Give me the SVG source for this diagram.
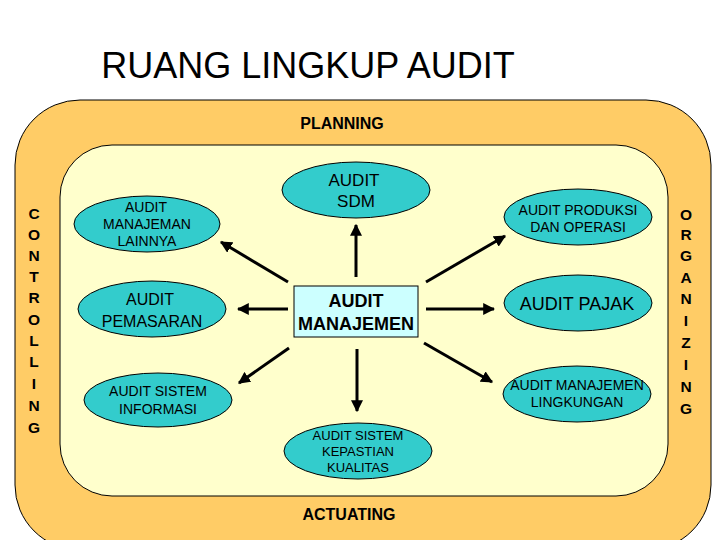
<svg xmlns="http://www.w3.org/2000/svg" width="720" height="540" viewBox="0 0 720 540">
<defs>
<marker id="ah" viewBox="0 0 10 10" refX="9" refY="5" markerWidth="4" markerHeight="4" orient="auto" markerUnits="strokeWidth"><path d="M0,0 L10,5 L0,10 Z" fill="#000"/></marker>
<style>
text{font-family:"Liberation Sans",Arial,sans-serif;fill:#000;text-anchor:middle}
.node ellipse{fill:#33CCCC;stroke:#000;stroke-width:1}
.b{font-weight:bold}
.conn line{stroke:#000;stroke-width:3;marker-end:url(#ah)}
.side{font-weight:bold;font-size:15.5px}
.s{font-size:14px}
</style>
</defs>
<rect width="720" height="540" fill="#fff"/>
<text x="308" y="78" style="font-size:36px">RUANG LINGKUP AUDIT</text>
<rect id="outer" x="15" y="100" width="696" height="450" rx="65" ry="65" fill="#FFCC66" stroke="#000" stroke-width="1"/>
<rect id="inner" x="60" y="145" width="608" height="351" rx="52" ry="52" fill="#FFFFCC" stroke="#000" stroke-width="1"/>
<text class="b" x="342" y="129" style="font-size:16px">PLANNING</text>
<text class="b" x="349" y="520" style="font-size:16px">ACTUATING</text>
<g class="side">
<text x="34" y="219">C</text><text x="34" y="240">O</text><text x="34" y="261">N</text><text x="34" y="282">T</text><text x="34" y="303">R</text><text x="34" y="325">O</text><text x="34" y="346">L</text><text x="34" y="367">L</text><text x="34" y="389">I</text><text x="34" y="411">N</text><text x="34" y="433">G</text>
</g>
<g class="side">
<text x="686" y="220">O</text><text x="686" y="240">R</text><text x="686" y="261">G</text><text x="686" y="283">A</text><text x="686" y="304">N</text><text x="686" y="326">I</text><text x="686" y="348">Z</text><text x="686" y="370">I</text><text x="686" y="392">N</text><text x="686" y="414">G</text>
</g>
<g class="conn">
<line x1="356" y1="277" x2="356" y2="225"/>
<line x1="288" y1="282" x2="221" y2="242"/>
<line x1="288" y1="309" x2="238" y2="309"/>
<line x1="289" y1="348" x2="239" y2="383"/>
<line x1="357" y1="349" x2="357" y2="411"/>
<line x1="424" y1="343" x2="492" y2="382"/>
<line x1="426" y1="309" x2="494" y2="309"/>
<line x1="426" y1="282" x2="505" y2="236"/>
</g>
<g id="sdm" class="node"><ellipse cx="356" cy="190" rx="74" ry="28"/><text x="354" y="186" style="font-size:17px">AUDIT</text><text x="356" y="207" style="font-size:17px">SDM</text></g>
<g id="lainnya" class="node"><ellipse cx="147" cy="224" rx="73" ry="28"/><text class="s" x="146" y="212">AUDIT</text><text class="s" x="147" y="229">MANAJEMAN</text><text class="s" x="147" y="246">LAINNYA</text></g>
<g id="pemasaran" class="node"><ellipse cx="152" cy="309" rx="74" ry="28"/><text x="150" y="305" style="font-size:16px">AUDIT</text><text x="152" y="327" style="font-size:16px">PEMASARAN</text></g>
<g id="manajemen"><rect x="294" y="286" width="124" height="51" fill="#CCFFFF" stroke="#000" stroke-width="1"/><text class="b" x="356" y="307" style="font-size:18px">AUDIT</text><text class="b" x="356" y="330" style="font-size:18px">MANAJEMEN</text></g>
<g id="si" class="node"><ellipse cx="158" cy="400" rx="74" ry="27"/><text class="s" x="158" y="396">AUDIT SISTEM</text><text class="s" x="158" y="414">INFORMASI</text></g>
<g id="kualitas" class="node"><ellipse cx="358" cy="451" rx="74" ry="28"/><text x="358" y="440" style="font-size:13px">AUDIT SISTEM</text><text x="358" y="456" style="font-size:13px">KEPASTIAN</text><text x="358" y="472" style="font-size:13px">KUALITAS</text></g>
<g id="produksi" class="node"><ellipse cx="578" cy="217" rx="74" ry="28"/><text class="s" x="578" y="215">AUDIT PRODUKSI</text><text class="s" x="578" y="232">DAN OPERASI</text></g>
<g id="pajak" class="node"><ellipse cx="578" cy="303" rx="74" ry="28"/><text x="577" y="310" style="font-size:18px">AUDIT PAJAK</text></g>
<g id="lingkungan" class="node"><ellipse cx="577" cy="394" rx="74" ry="28"/><text class="s" x="577" y="390">AUDIT MANAJEMEN</text><text class="s" x="577" y="407">LINGKUNGAN</text></g>
</svg>
